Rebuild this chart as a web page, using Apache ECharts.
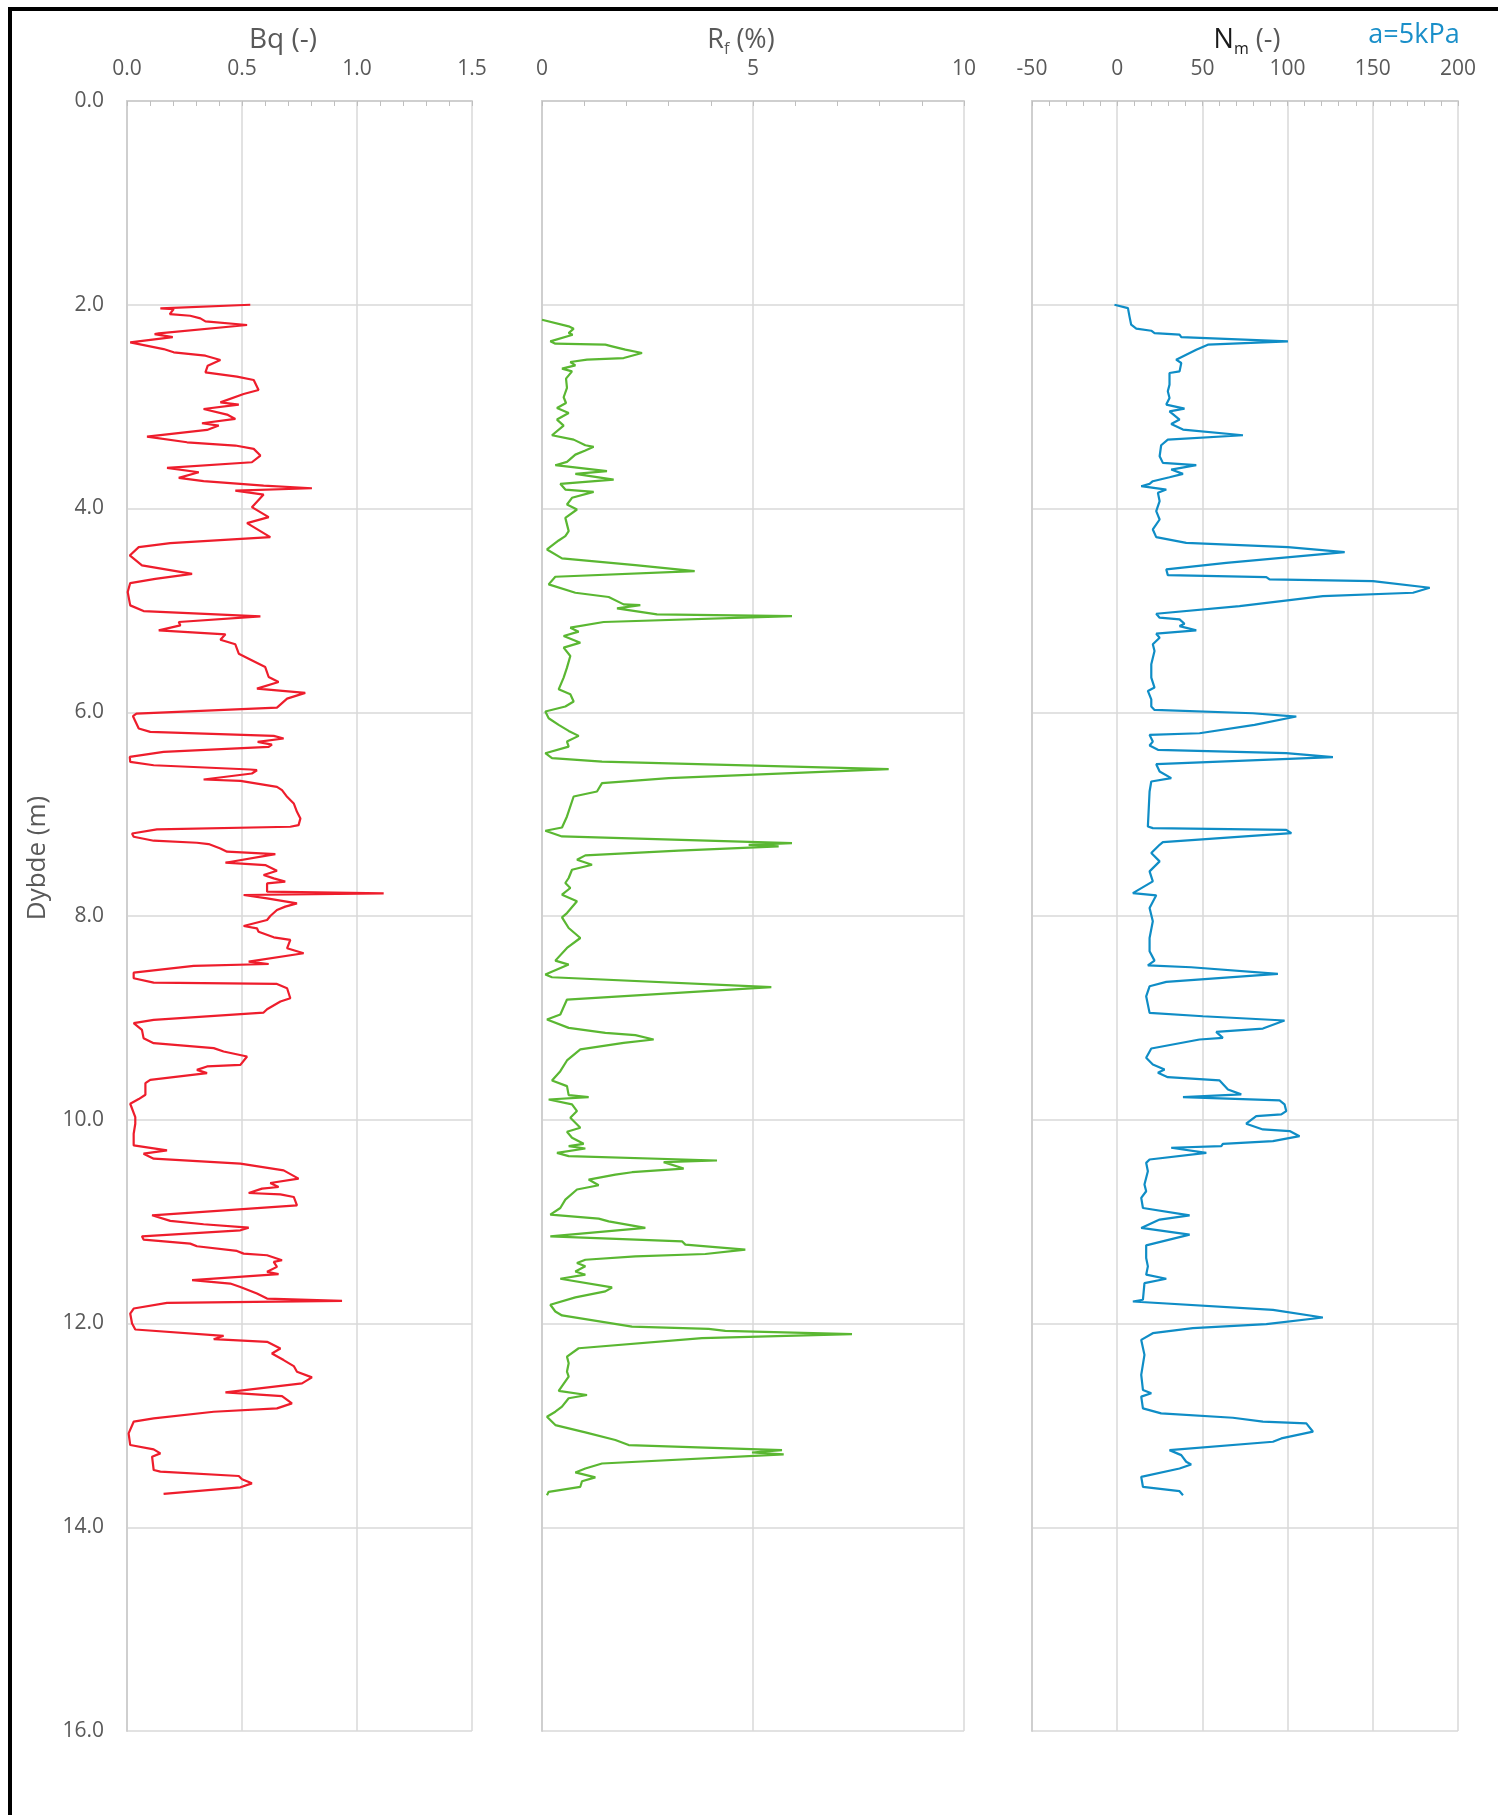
<!DOCTYPE html>
<html>
<head>
<meta charset="utf-8">
<script src="https://cdn.jsdelivr.net/npm/echarts@6/dist/echarts.min.js"></script>
<style>
html,body{margin:0;padding:0;background:#fff;}
#chart{width:1498px;height:1815px;}
</style>
</head>
<body>
<div id="chart"></div>
<script>
// ---- Data (depth in m) ----
const bqDepth = [2.000,2.036,2.042,2.092,2.108,2.134,2.163,2.199,2.281,2.288,2.317,2.369,2.435,2.467,2.500,2.542,2.598,2.663,2.706,2.739,2.837,2.876,2.958,2.980,3.023,3.078,3.121,3.163,3.186,3.229,3.294,3.350,3.382,3.415,3.480,3.546,3.601,3.644,3.699,3.732,3.775,3.801,3.824,3.863,3.987,4.085,4.144,4.281,4.340,4.379,4.461,4.559,4.641,4.690,4.732,4.820,4.951,5.007,5.059,5.114,5.147,5.196,5.235,5.288,5.333,5.425,5.474,5.556,5.654,5.703,5.768,5.810,5.866,5.954,6.013,6.039,6.160,6.193,6.232,6.258,6.291,6.317,6.340,6.389,6.438,6.487,6.520,6.562,6.569,6.601,6.660,6.673,6.732,6.765,6.830,6.895,6.977,7.042,7.108,7.124,7.150,7.190,7.222,7.261,7.281,7.294,7.337,7.369,7.392,7.477,7.500,7.556,7.598,7.631,7.663,7.680,7.761,7.778,7.794,7.827,7.876,7.908,7.941,8.000,8.039,8.098,8.121,8.154,8.209,8.235,8.317,8.366,8.448,8.471,8.490,8.556,8.611,8.654,8.667,8.709,8.807,8.840,8.915,8.948,9.020,9.052,9.118,9.199,9.248,9.297,9.330,9.379,9.461,9.477,9.510,9.542,9.608,9.641,9.755,9.797,9.843,9.974,10.039,10.137,10.252,10.301,10.333,10.382,10.431,10.497,10.578,10.621,10.660,10.676,10.719,10.732,10.758,10.840,10.938,10.993,11.026,11.059,11.085,11.144,11.176,11.216,11.242,11.288,11.314,11.330,11.379,11.395,11.444,11.493,11.516,11.575,11.608,11.641,11.706,11.755,11.778,11.797,11.853,11.902,12.000,12.059,12.121,12.154,12.180,12.245,12.294,12.359,12.418,12.474,12.529,12.588,12.676,12.712,12.784,12.833,12.866,12.931,12.964,13.078,13.193,13.235,13.275,13.307,13.438,13.454,13.497,13.529,13.569,13.608,13.673];
const bqValue = [0.536,0.145,0.203,0.186,0.275,0.319,0.341,0.522,0.138,0.120,0.199,0.014,0.159,0.203,0.341,0.406,0.351,0.341,0.478,0.551,0.572,0.507,0.406,0.486,0.333,0.435,0.471,0.326,0.399,0.348,0.087,0.261,0.471,0.551,0.580,0.543,0.174,0.312,0.225,0.333,0.594,0.804,0.471,0.594,0.543,0.616,0.522,0.623,0.188,0.051,0.012,0.065,0.283,0.123,0.014,0.003,0.014,0.072,0.580,0.225,0.232,0.138,0.428,0.406,0.471,0.486,0.529,0.601,0.616,0.659,0.565,0.775,0.696,0.652,0.041,0.026,0.051,0.101,0.638,0.681,0.568,0.630,0.616,0.159,0.012,0.014,0.116,0.536,0.565,0.543,0.333,0.493,0.652,0.674,0.696,0.725,0.739,0.754,0.746,0.710,0.130,0.022,0.029,0.116,0.304,0.355,0.406,0.435,0.645,0.428,0.601,0.652,0.594,0.638,0.688,0.609,0.609,1.116,0.507,0.609,0.739,0.688,0.652,0.623,0.609,0.507,0.565,0.572,0.638,0.710,0.696,0.768,0.529,0.616,0.290,0.029,0.029,0.116,0.652,0.696,0.710,0.667,0.609,0.594,0.116,0.029,0.065,0.072,0.116,0.377,0.420,0.522,0.493,0.348,0.304,0.348,0.101,0.080,0.080,0.051,0.014,0.036,0.036,0.029,0.029,0.174,0.072,0.116,0.493,0.681,0.746,0.623,0.659,0.587,0.529,0.667,0.725,0.739,0.109,0.188,0.333,0.529,0.493,0.065,0.072,0.275,0.304,0.478,0.507,0.609,0.674,0.638,0.652,0.609,0.659,0.283,0.449,0.493,0.565,0.609,0.935,0.174,0.029,0.014,0.022,0.036,0.420,0.377,0.609,0.667,0.630,0.681,0.725,0.739,0.804,0.761,0.428,0.674,0.717,0.652,0.377,0.116,0.029,0.007,0.014,0.116,0.145,0.109,0.116,0.145,0.486,0.500,0.543,0.493,0.159];

const rfDepth = [2.147,2.212,2.235,2.278,2.294,2.359,2.382,2.392,2.408,2.441,2.474,2.523,2.539,2.562,2.595,2.627,2.654,2.725,2.817,2.908,2.964,3.013,3.062,3.127,3.186,3.281,3.324,3.379,3.395,3.431,3.471,3.542,3.575,3.634,3.660,3.716,3.758,3.814,3.837,3.895,3.961,4.010,4.092,4.222,4.271,4.314,4.402,4.490,4.556,4.614,4.670,4.745,4.827,4.869,4.941,4.948,4.980,5.039,5.056,5.114,5.170,5.209,5.252,5.317,5.366,5.448,5.562,5.660,5.775,5.824,5.895,5.944,5.993,6.059,6.124,6.183,6.232,6.288,6.337,6.402,6.451,6.484,6.559,6.647,6.696,6.778,6.827,7.023,7.131,7.163,7.219,7.284,7.301,7.317,7.359,7.405,7.448,7.497,7.546,7.627,7.676,7.725,7.791,7.856,7.971,8.013,8.118,8.216,8.314,8.438,8.477,8.575,8.601,8.699,8.820,8.967,9.016,9.098,9.147,9.170,9.212,9.245,9.310,9.418,9.523,9.614,9.670,9.758,9.778,9.801,9.849,9.915,9.980,10.079,10.118,10.177,10.236,10.259,10.282,10.325,10.357,10.400,10.416,10.479,10.515,10.538,10.587,10.643,10.685,10.784,10.866,10.931,10.970,10.997,11.062,11.144,11.193,11.226,11.275,11.318,11.341,11.374,11.407,11.439,11.489,11.521,11.561,11.646,11.685,11.744,11.816,11.882,11.921,12.030,12.052,12.072,12.105,12.144,12.243,12.325,12.390,12.472,12.521,12.662,12.702,12.734,12.816,12.866,12.915,12.997,13.069,13.144,13.193,13.243,13.266,13.285,13.374,13.423,13.462,13.511,13.548,13.603,13.652,13.685];
const rfValue = [0.000,0.632,0.751,0.632,0.727,0.197,0.316,1.501,1.659,1.975,2.370,1.935,1.066,0.671,0.790,0.474,0.711,0.569,0.592,0.513,0.569,0.355,0.632,0.355,0.513,0.237,0.750,1.027,1.224,1.027,0.790,0.592,0.316,1.540,0.790,1.698,0.434,0.553,1.224,0.711,0.592,0.829,0.553,0.632,0.553,0.395,0.118,0.474,2.212,3.618,0.316,0.158,0.790,1.580,1.935,2.330,1.777,2.725,5.924,1.461,0.671,0.869,0.513,0.908,0.513,0.671,0.592,0.513,0.395,0.671,0.750,0.553,0.079,0.158,0.395,0.632,0.869,0.592,0.632,0.079,0.237,1.422,8.215,3.002,1.422,1.303,0.750,0.592,0.474,0.079,0.474,5.924,4.897,5.608,3.239,1.027,0.829,1.185,0.711,0.632,0.553,0.671,0.474,0.829,0.592,0.474,0.632,0.908,0.592,0.316,0.632,0.079,0.237,5.434,0.592,0.434,0.118,0.632,1.501,2.212,2.646,1.935,0.908,0.592,0.434,0.237,0.592,0.632,1.106,0.158,0.711,0.829,0.671,0.908,0.592,0.711,0.987,0.632,1.027,0.355,0.632,4.147,2.883,3.357,2.133,1.738,1.106,1.343,0.829,0.553,0.434,0.197,1.343,1.580,2.449,0.197,3.318,3.397,4.818,3.870,2.212,1.027,0.829,1.027,0.790,1.027,0.434,1.659,1.501,0.790,0.197,0.316,0.474,2.133,3.949,4.344,7.346,3.791,0.869,0.592,0.632,0.592,0.632,0.395,1.066,0.632,0.474,0.316,0.118,0.316,1.027,1.738,2.054,5.687,4.976,5.727,1.422,1.027,0.790,1.264,0.948,0.908,0.158,0.118];

const nmDepth = [2.000,2.033,2.114,2.196,2.235,2.255,2.278,2.294,2.317,2.359,2.392,2.441,2.490,2.539,2.572,2.654,2.670,2.784,2.850,2.915,2.980,3.020,3.046,3.127,3.170,3.225,3.281,3.324,3.379,3.487,3.552,3.575,3.618,3.660,3.693,3.732,3.758,3.781,3.814,3.846,3.928,4.026,4.108,4.206,4.281,4.337,4.379,4.428,4.533,4.598,4.654,4.673,4.696,4.712,4.778,4.827,4.860,4.958,5.033,5.072,5.088,5.131,5.154,5.196,5.229,5.268,5.333,5.399,5.529,5.660,5.758,5.791,5.873,5.944,5.977,6.010,6.042,6.124,6.206,6.222,6.288,6.327,6.369,6.402,6.441,6.510,6.582,6.647,6.680,6.778,7.121,7.137,7.154,7.186,7.275,7.301,7.382,7.464,7.562,7.660,7.775,7.797,7.922,8.052,8.216,8.346,8.438,8.484,8.503,8.569,8.647,8.690,8.788,8.951,8.984,9.026,9.105,9.137,9.196,9.212,9.301,9.392,9.458,9.507,9.539,9.582,9.614,9.703,9.751,9.777,9.810,9.849,9.915,9.948,9.964,10.039,10.095,10.111,10.161,10.210,10.236,10.259,10.275,10.325,10.390,10.423,10.505,10.636,10.702,10.767,10.866,10.938,10.980,11.062,11.128,11.233,11.357,11.439,11.521,11.561,11.603,11.767,11.784,11.866,11.941,12.007,12.046,12.095,12.161,12.308,12.505,12.652,12.685,12.718,12.833,12.882,12.925,12.964,12.980,13.062,13.128,13.161,13.243,13.292,13.357,13.384,13.423,13.505,13.603,13.646,13.685];
const nmValue = [-1.6,6.3,7.2,8.2,11.2,20.0,21.9,36.6,37.6,100.2,53.2,46.4,40.5,34.6,37.6,36.6,30.7,30.7,29.7,30.7,28.8,39.5,30.7,36.6,31.7,38.6,73.8,29.7,25.8,24.9,26.8,46.4,31.7,38.6,30.7,20.9,19.0,14.1,28.8,23.9,24.9,22.9,24.9,20.9,22.9,40.5,100.2,133.5,64.0,28.8,29.7,87.5,89.4,150.1,183.4,173.6,120.7,71.8,22.9,24.9,36.6,39.5,36.6,46.4,22.9,24.9,20.9,21.9,20.0,20.0,21.9,18.0,20.0,20.0,21.9,79.6,105.1,80.6,48.3,19.0,20.9,19.0,23.9,99.2,126.6,22.9,24.9,31.7,20.0,19.0,18.0,20.9,99.2,102.2,26.8,24.9,20.0,24.9,19.0,20.9,9.2,22.9,19.0,20.9,19.0,19.0,21.9,18.0,43.4,94.3,28.8,19.0,17.0,19.0,50.3,98.2,85.5,58.1,62.0,48.3,20.0,17.0,20.9,27.8,23.9,29.7,60.1,65.0,72.8,38.6,95.3,98.2,99.2,96.3,81.6,75.7,85.5,101.2,107.0,91.4,62.0,61.1,31.7,52.3,19.0,17.0,18.0,16.0,17.0,14.1,15.1,42.5,24.9,14.1,42.5,17.0,17.0,18.0,17.0,28.8,16.0,15.1,9.2,91.4,120.7,87.5,44.4,20.9,14.1,16.0,14.1,15.1,20.0,14.1,15.1,25.8,67.9,85.5,111.0,114.9,96.3,91.4,30.7,37.6,40.5,43.4,36.6,14.1,15.1,36.6,38.6];

// axis ranges / ticks
const depthRange = [0, 16, 2];
const bqRange = [0, 1.5, 0.5];
const rfRange = [0, 10, 5];
const nmRange = [-50, 200, 50];

const FONT = "'Open Sans', 'Noto Sans', sans-serif";
const GREY = '#595959';
const GRID = '#d9d9d9';
const AXIS = '#cfcfcf';

const grids = [
  {left: 127, top: 101, width: 345, height: 1630},
  {left: 542, top: 101, width: 422, height: 1630},
  {left: 1032, top: 101, width: 426, height: 1630}
];

function xAx(i, r, fmt) {
  return {
    gridIndex: i, type: 'value', position: 'top',
    min: r[0], max: r[1], interval: r[2],
    axisLine: {show: true, onZero: false, lineStyle: {color: AXIS, width: 2}},
    axisTick: {show: true, inside: true, length: 5, lineStyle: {color: '#bfbfbf', width: 1}},
    minorTick: {show: true, splitNumber: 5, length: 5, lineStyle: {color: '#bfbfbf', width: 1}},
    splitLine: {show: true, lineStyle: {color: GRID, width: 1.5}},
    axisLabel: {show: true, fontSize: 21, fontFamily: FONT, color: GREY, margin: 21, formatter: fmt, hideOverlap: false}
  };
}
function yAx(i, showLabel) {
  return {
    gridIndex: i, type: 'value', inverse: true,
    min: depthRange[0], max: depthRange[1], interval: depthRange[2],
    axisLine: {show: true, onZero: false, lineStyle: {color: AXIS, width: 2}},
    axisTick: {show: false},
    splitLine: {show: true, lineStyle: {color: GRID, width: 1.5}},
    axisLabel: {show: showLabel, fontSize: 21, fontFamily: FONT, color: GREY, margin: 23,
      formatter: v => v.toFixed(1)}
  };
}
function pairs(depths, vals) { return depths.map((d, k) => [vals[k], d]); }

const titleRich = {
  n: {fontSize: 27, fontFamily: FONT, fill: GREY, color: GREY, lineHeight: 35, verticalAlign: 'middle'},
  b: {fontSize: 28, fontFamily: FONT, fill: GREY, color: GREY, lineHeight: 35, verticalAlign: 'middle'},
  s: {fontSize: 16, fontFamily: FONT, fill: GREY, color: GREY, lineHeight: 35, verticalAlign: 'bottom'},
  d: {fontSize: 27, fontFamily: FONT, fill: '#1a1a1a', color: '#1a1a1a', lineHeight: 35, verticalAlign: 'middle'},
  ds: {fontSize: 16, fontFamily: FONT, fill: '#1a1a1a', color: '#1a1a1a', lineHeight: 35, verticalAlign: 'bottom'}
};

const option = {
  backgroundColor: '#ffffff',
  animation: false,
  grid: grids,
  xAxis: [
    xAx(0, bqRange, v => v.toFixed(1)),
    xAx(1, rfRange, v => String(v)),
    xAx(2, nmRange, v => String(v))
  ],
  yAxis: [yAx(0, true), yAx(1, false), yAx(2, false)],
  series: [
    {type: 'line', xAxisIndex: 0, yAxisIndex: 0, data: pairs(bqDepth, bqValue), showSymbol: false, symbol: 'none',
      lineStyle: {color: '#ee1d2c', width: 2.2}, itemStyle: {color: '#ee1d2c'}},
    {type: 'line', xAxisIndex: 1, yAxisIndex: 1, data: pairs(rfDepth, rfValue), showSymbol: false, symbol: 'none',
      lineStyle: {color: '#5ab732', width: 2.2}, itemStyle: {color: '#5ab732'}},
    {type: 'line', xAxisIndex: 2, yAxisIndex: 2, data: pairs(nmDepth, nmValue), showSymbol: false, symbol: 'none',
      lineStyle: {color: '#0f8dc6', width: 2.2}, itemStyle: {color: '#0f8dc6'}}
  ],
  graphic: [
    {type: 'line', shape: {x1: 8, y1: 9, x2: 1498, y2: 9}, style: {stroke: '#000', lineWidth: 4}, silent: true},
    {type: 'line', shape: {x1: 10, y1: 7, x2: 10, y2: 1815}, style: {stroke: '#000', lineWidth: 4}, silent: true},
    {type: 'text', x: 283, y: 40, style: {text: '{b|Bq (-)}', rich: titleRich, align: 'center', verticalAlign: 'middle'}},
    {type: 'text', x: 741, y: 40, style: {text: '{n|R}{s|f}{n| (%)}', rich: titleRich, align: 'center', verticalAlign: 'middle'}},
    {type: 'text', x: 1247, y: 40, style: {text: '{d|N}{ds|m}{n| (-)}', rich: titleRich, align: 'center', verticalAlign: 'middle'}},
    {type: 'text', x: 1414, y: 35, style: {text: 'a=5kPa', font: "27px 'Open Sans', sans-serif", fill: '#1a8fc9', align: 'center', verticalAlign: 'middle'}},
    {type: 'text', x: 38, y: 858, rotation: Math.PI / 2,
      style: {text: 'Dybde (m)', font: "26px 'Open Sans', sans-serif", fill: GREY, align: 'center', verticalAlign: 'middle'}}
  ]
};

const chart = echarts.init(document.getElementById('chart'), null, {renderer: 'canvas', width: 1498, height: 1815});
chart.setOption(option);
</script>
</body>
</html>
